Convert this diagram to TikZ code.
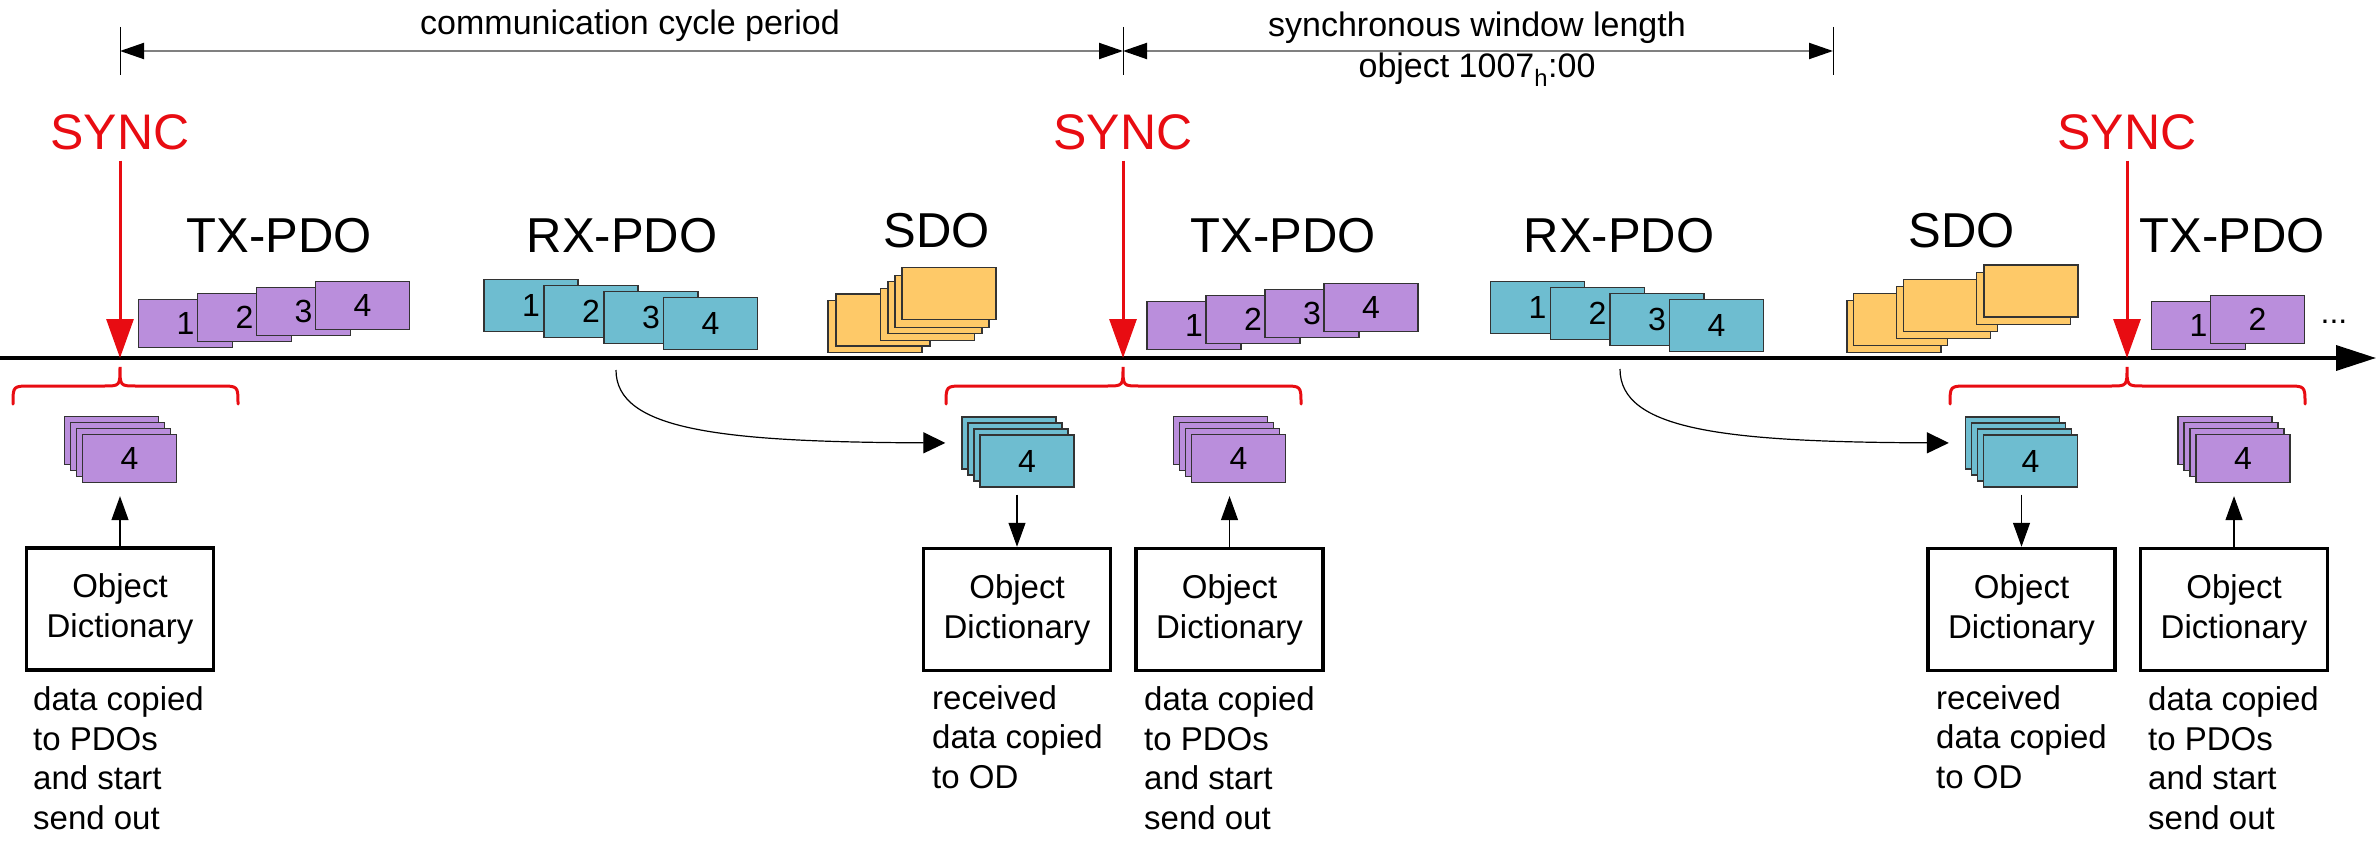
\documentclass[tikz,border=0pt]{standalone}
\usepackage{fontspec}
\setmainfont{Liberation Sans}
\usetikzlibrary{arrows.meta}
\definecolor{pdopurple}{RGB}{186,142,220}
\definecolor{pdoteal}{RGB}{110,189,208}
\definecolor{sdoorange}{RGB}{254,201,104}
\definecolor{syncred}{RGB}{232,12,18}
\definecolor{dimgray}{RGB}{128,128,128}
\begin{document}
\begin{tikzpicture}[x=1pt,y=-1pt,
  pdo/.style={draw=black!80, line width=1.3pt, inner sep=0pt, minimum width=94pt, font=\fontsize{32}{32}\selectfont},
  txbox/.style={pdo, fill=pdopurple, minimum height=48pt},
  rxbox/.style={pdo, fill=pdoteal, minimum height=52pt},
  sdobox/.style={pdo, fill=sdoorange, minimum height=52pt},
  odbox/.style={draw, line width=3.5pt, minimum width=187pt, minimum height=122pt, align=center, inner sep=0pt, font=\fontsize{33}{40}\selectfont},
  desc/.style={align=left, anchor=base west, inner sep=0pt, font=\fontsize{33}{39.5}\selectfont},
  kind/.style={anchor=base, inner sep=0pt, font=\fontsize{49}{49}\selectfont},
  synclabel/.style={anchor=base, inner sep=0pt, text=syncred, font=\fontsize{50}{50}\selectfont},
  syncarrow/.style={draw=syncred, line width=3pt, -{Triangle[length=39pt,width=27pt,color=syncred]}, shorten <=10pt},
  timeline/.style={line width=3.5pt, -{Triangle[length=40pt,width=25pt]}},
  dimtick/.style={line width=1pt},
  dimline/.style={draw=dimgray, line width=2pt, {Triangle[length=24pt,width=16pt,color=black]}-{Triangle[length=24pt,width=16pt,color=black]}},
  dimlabel/.style={anchor=base, inner sep=0pt, align=center, font=\fontsize{34}{41}\selectfont},
  bracepath/.style={draw=syncred, line width=3pt, line cap=round},
  odarrow/.style={line width=1.2pt, -{Triangle[length=24pt,width=17pt]}},
  curvearrow/.style={line width=1.2pt, -{Triangle[length=22pt,width=21pt]}},
  dotslbl/.style={anchor=base, inner sep=0pt, font=\fontsize{32}{32}\selectfont}
]
\useasboundingbox (0,0) rectangle (2376,842);

% ---- dimension lines at the top
\coordinate (da) at (120,51);
\coordinate (db) at (1123,51);
\coordinate (dc) at (1833,51);
\foreach \c in {da,db,dc} \draw[dimtick] (\c) ++(0,-24) -- ++(0,48);
\draw[dimline] (da) -- (db);
\draw[dimline] (db) -- (dc);
\node[dimlabel] (cyclelbl) at (630,35) {communication cycle period};
% base anchor of a multi-line node = baseline of its last line
\node[dimlabel] (winlbl) at (1477,78) {synchronous window length\\object 1007\textsubscript{h}:00};

% ---- timeline
\coordinate (tstart) at (0,358);
\coordinate (tend) at (2376,358);
\draw[timeline] (tstart) -- (tend);

% ---- SYNC markers
\foreach \n/\x in {1/120, 2/1123, 3/2127} {
  \coordinate (t\n) at (\x,358);
  \node[synclabel] (sync\n) at (\x,150) {SYNC};
  \draw[syncarrow] (sync\n) -- (t\n);
}

% ---- braces
\draw[bracepath] (13,404) .. controls (13,386) .. (31,386) -- (104,386) .. controls (120,386) .. (120,367) .. controls (120,386) .. (136,386) -- (220,386) .. controls (238,386) .. (238,404);
\draw[bracepath] (946,404) .. controls (946,386) .. (964,386) -- (1107,386) .. controls (1123,386) .. (1123,367) .. controls (1123,386) .. (1139,386) -- (1283,386) .. controls (1301,386) .. (1301,404);
\draw[bracepath] (1950,404) .. controls (1950,386) .. (1968,386) -- (2111,386) .. controls (2127,386) .. (2127,367) .. controls (2127,386) .. (2143,386) -- (2287,386) .. controls (2305,386) .. (2305,404);

% ---- labels of message kinds
\node[kind] (txl1) at (279,253) {TX-PDO};
\node[kind] (rxl1) at (622,253) {RX-PDO};
\node[kind] (sdol1) at (937,248) {SDO};
\node[kind] (txl2) at (1283,253) {TX-PDO};
\node[kind] (rxl2) at (1619,253) {RX-PDO};
\node[kind] (sdol2) at (1962,248) {SDO};
\node[kind] (txl3) at (2232,253) {TX-PDO};

% ---- TX-PDO groups
\foreach \i/\x/\y in {1/185.5/323.5, 2/244.5/317.5, 3/303.5/311.5, 4/362.5/305.5}
  \node[txbox] (txa\i) at (\x,\y) {\i};
\foreach \i/\x/\y in {1/1194/325.5, 2/1253/319.5, 3/1312/313.5, 4/1371/307.5}
  \node[txbox] (txb\i) at (\x,\y) {\i};
\foreach \i/\x/\y in {1/2198.5/325.5, 2/2257.5/319.5}
  \node[txbox] (txc\i) at (\x,\y) {\i};
\node[dotslbl] (more) at (2334,323) {...};

% ---- RX-PDO groups
\foreach \i/\x/\y in {1/531/305.5, 2/591/311.5, 3/651/317.5, 4/710.5/323.5}
  \node[rxbox] (rxa\i) at (\x,\y) {\i};
\foreach \i/\x/\y in {1/1537.5/307.5, 2/1597.5/313.5, 3/1657/319.5, 4/1716.5/325.5}
  \node[rxbox] (rxb\i) at (\x,\y) {\i};

% ---- SDO groups
\foreach \i/\x/\y in {1/875/326.5, 2/883/320, 3/927.5/314.5, 4/935/307.5, 5/942/301.5, 6/949/293.5}
  \node[sdobox] (sdoa\i) at (\x,\y) {};
\foreach \i/\x/\y in {1/1894/326.5, 2/1900.5/319.5, 3/1943.5/312.5, 4/1950.5/305.5, 5/2023.5/298.5, 6/2031/291}
  \node[sdobox] (sdob\i) at (\x,\y) {};

% ---- stacks below the timeline
\foreach \k in {3,2,1} \node[txbox] (pa\k) at ({129.5-6*\k},{458.5-6*\k}) {};
\node[txbox] (pa0) at (129.5,458.5) {4};
\foreach \k in {3,2,1} \node[rxbox] (ra\k) at ({1027-6*\k},{461-6*\k}) {};
\node[rxbox] (ra0) at (1027,461) {4};
\foreach \k in {3,2,1} \node[txbox] (pb\k) at ({1238.5-6*\k},{458.5-6*\k}) {};
\node[txbox] (pb0) at (1238.5,458.5) {4};
\foreach \k in {3,2,1} \node[rxbox] (rb\k) at ({2030.5-6*\k},{461-6*\k}) {};
\node[rxbox] (rb0) at (2030.5,461) {4};
\foreach \k in {3,2,1} \node[txbox] (pc\k) at ({2243-6*\k},{458.5-6*\k}) {};
\node[txbox] (pc0) at (2243,458.5) {4};

% ---- object dictionaries
\node[odbox] (od1) at (120,609) {Object\\Dictionary};
\node[odbox] (od2) at (1017,609.5) {Object\\Dictionary};
\node[odbox] (od3) at (1229.5,609.5) {Object\\Dictionary};
\node[odbox] (od4) at (2021.5,609.5) {Object\\Dictionary};
\node[odbox] (od5) at (2234,609.5) {Object\\Dictionary};

% ---- descriptions (anchored at the baseline of their last line)
\node[desc] (txt1) at (33,829) {data copied\\to PDOs\\and start\\send out};
\node[desc] (txt2) at (932,788) {received\\data copied\\to OD};
\node[desc] (txt3) at (1144,829) {data copied\\to PDOs\\and start\\send out};
\node[desc] (txt4) at (1936,788) {received\\data copied\\to OD};
\node[desc] (txt5) at (2148,829) {data copied\\to PDOs\\and start\\send out};

% ---- vertical arrows
\draw[odarrow, shorten >=13pt] (od1.north) -- (od1.north |- pa0.south);
\draw[odarrow, shorten <=7pt] (od2.north |- ra0.south) -- (od2.north);
\draw[odarrow, shorten >=13pt] (od3.north) -- (od3.north |- pb0.south);
\draw[odarrow, shorten <=7pt] (od4.north |- rb0.south) -- (od4.north);
\draw[odarrow, shorten >=13pt] (od5.north) -- (od5.north |- pc0.south);

% ---- curved arrows from RX-PDOs to received buffers
\coordinate (cs1) at (616,370);
\coordinate (cs2) at (1620,369);
\draw[curvearrow, shorten >=16pt] (cs1) .. controls (616,430) and (720,442) .. (ra3.west);
\draw[curvearrow, shorten >=16pt] (cs2) .. controls (1620,430) and (1724,442) .. (rb3.west);
\end{tikzpicture}
\end{document}
